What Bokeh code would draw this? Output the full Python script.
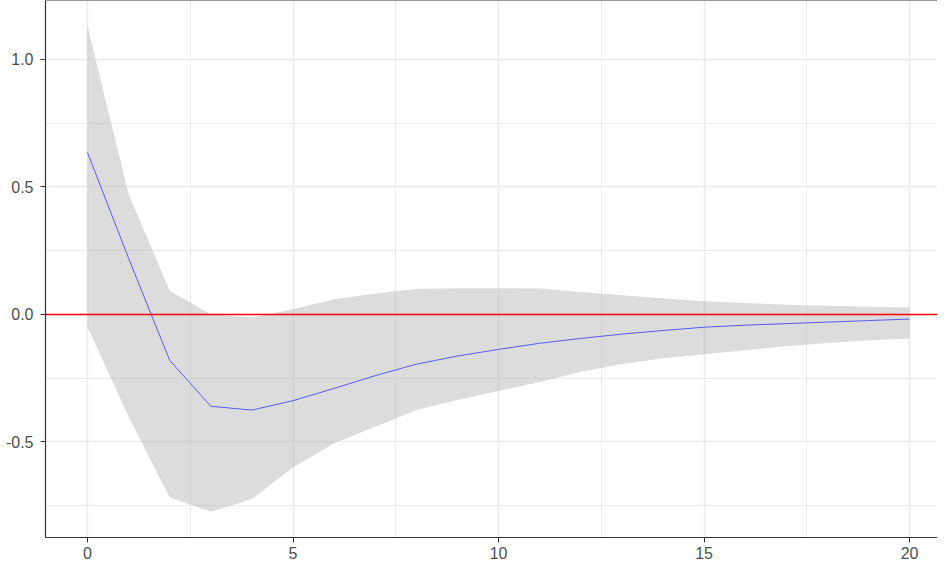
from bokeh.plotting import figure
from bokeh.models import FixedTicker, Span, ColumnDataSource
from bokeh.embed import file_html
from bokeh.resources import INLINE

# Data
horizon = list(range(21))
irf = [0.635, 0.22, -0.18, -0.36, -0.375, -0.338, -0.29, -0.24, -0.195, -0.163,
       -0.137, -0.113, -0.094, -0.077, -0.063, -0.050, -0.042, -0.036, -0.030, -0.024, -0.018]
upper = [1.13, 0.472, 0.093, 0.0, -0.012, 0.02, 0.06, 0.082, 0.10, 0.103,
         0.103, 0.102, 0.088, 0.075, 0.064, 0.052, 0.045, 0.038, 0.034, 0.030, 0.027]
lower = [-0.05, -0.40, -0.718, -0.774, -0.724, -0.60, -0.505, -0.44, -0.375, -0.335,
         -0.30, -0.265, -0.225, -0.195, -0.172, -0.156, -0.14, -0.125, -0.112, -0.102, -0.094]

x_ticks = [0, 5, 10, 15, 20]
x_minor = [-2.5, 2.5, 7.5, 12.5, 17.5, 22.5]
y_ticks = [-0.5, 0.0, 0.5, 1.0]
y_minor = [-0.75, -0.25, 0.25, 0.75]
y_labels = {-0.5: "-0.5", 0.0: "0.0", 0.5: "0.5", 1.0: "1.0"}

src = ColumnDataSource(dict(h=horizon, irf=irf, up=upper, lo=lower))

p = figure(width=937, height=565, output_backend="svg", toolbar_location=None,
           x_range=(-1.022, 20.68), y_range=(-0.8745, 1.231),
           min_border_left=45, min_border_right=0, min_border_top=0, min_border_bottom=28)
p.background_fill_color = "white"
p.border_fill_color = "white"
p.outline_line_color = None

p.varea(x="h", y1="lo", y2="up", source=src, fill_color="#A8A8A8", fill_alpha=0.4)
p.line(x="h", y="irf", source=src, line_color="#5A5AF0", line_width=1)
p.add_layout(Span(location=0, dimension="width", line_color="red", line_width=1.5))
p.add_layout(Span(location=1.231, dimension="width", line_color="#333333", line_width=1.2))

p.xaxis.ticker = FixedTicker(ticks=x_ticks, minor_ticks=x_minor)
p.yaxis.ticker = FixedTicker(ticks=y_ticks, minor_ticks=y_minor)
p.yaxis.major_label_overrides = y_labels

for ax in (p.xaxis, p.yaxis):
    ax.axis_line_color = "#333333"
    ax.axis_line_width = 1.2
    ax.major_tick_line_color = "#333333"
    ax.major_tick_in = 0
    ax.major_tick_out = 5
    ax.minor_tick_line_color = None
    ax.major_label_text_color = "#4D4D4D"
    ax.major_label_text_font = "Liberation Sans"
    ax.major_label_text_font_size = "16px"
p.yaxis.major_label_standoff = 7
p.xaxis.major_label_standoff = 4

for g in (p.xgrid, p.ygrid):
    g.grid_line_color = "#EBEBEB"
    g.grid_line_width = 1.6
    g.minor_grid_line_color = "#EBEBEB"
    g.minor_grid_line_width = 1

open("out.html", "w").write(file_html(p, INLINE))
